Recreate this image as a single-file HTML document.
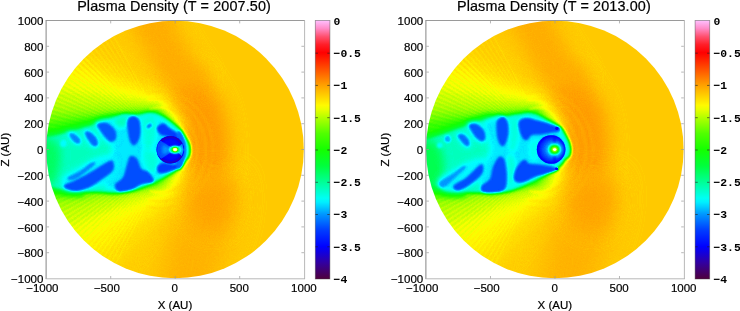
<!DOCTYPE html>
<html><head><meta charset="utf-8"><title>Plasma Density</title>
<style>
html,body{margin:0;padding:0;background:#fff;}
body{width:740px;height:311px;overflow:hidden;}
svg{display:block;opacity:0.999;}
.t{font-family:"Liberation Sans",sans-serif;font-size:11.5px;fill:#000;stroke:#000;stroke-width:0.2px;}
.ti{font-family:"Liberation Sans",sans-serif;font-size:14.4px;letter-spacing:0.12px;fill:#000;stroke:#000;stroke-width:0.2px;}
.m{font-family:"Liberation Mono",monospace;font-weight:bold;font-size:11.4px;fill:#000;}
</style></head><body>
<svg width="740" height="311" viewBox="0 0 740 311">
<defs>
<filter id="cmap" x="0" y="0" width="100%" height="100%" color-interpolation-filters="sRGB"><feComponentTransfer><feFuncR type="table" tableValues="0.314 0.299 0.284 0.270 0.255 0.240 0.225 0.211 0.196 0.172 0.147 0.123 0.098 0.074 0.049 0.025 0.000 0.000 0.000 0.000 0.000 0.000 0.000 0.000 0.000 0.000 0.000 0.000 0.000 0.000 0.000 0.000 0.000 0.000 0.000 0.000 0.000 0.000 0.000 0.000 0.000 0.000 0.000 0.000 0.000 0.000 0.000 0.000 0.000 0.000 0.000 0.000 0.000 0.000 0.000 0.000 0.000 0.010 0.020 0.029 0.039 0.049 0.059 0.069 0.078 0.108 0.137 0.167 0.196 0.225 0.255 0.284 0.314 0.363 0.412 0.461 0.510 0.559 0.608 0.657 0.706 0.760 0.814 0.868 0.922 0.976 1.000 1.000 1.000 1.000 1.000 1.000 1.000 1.000 1.000 1.000 1.000 1.000 1.000 1.000 1.000 1.000 1.000 1.000 1.000 1.000 1.000 1.000 1.000 1.000 1.000 1.000 1.000 1.000 1.000 1.000 1.000 1.000 1.000 1.000 1.000 1.000 1.000 1.000 1.000 1.000 1.000 1.000 1.000"/><feFuncG type="table" tableValues="0.000 0.000 0.000 0.000 0.000 0.000 0.000 0.000 0.000 0.000 0.000 0.000 0.000 0.000 0.000 0.000 0.000 0.029 0.059 0.088 0.118 0.147 0.176 0.206 0.235 0.279 0.324 0.368 0.412 0.456 0.500 0.544 0.588 0.647 0.705 0.764 0.822 0.881 0.939 0.998 1.000 1.000 1.000 1.000 1.000 1.000 1.000 1.000 1.000 1.000 1.000 1.000 1.000 1.000 1.000 1.000 1.000 1.000 1.000 1.000 1.000 1.000 1.000 1.000 1.000 1.000 1.000 1.000 1.000 1.000 1.000 1.000 1.000 1.000 1.000 1.000 1.000 1.000 1.000 1.000 1.000 1.000 1.000 1.000 1.000 1.000 0.980 0.945 0.910 0.874 0.839 0.804 0.769 0.733 0.698 0.663 0.627 0.588 0.549 0.510 0.471 0.431 0.392 0.353 0.314 0.275 0.235 0.196 0.157 0.118 0.078 0.039 0.000 0.029 0.059 0.088 0.118 0.167 0.216 0.265 0.314 0.373 0.431 0.490 0.549 0.600 0.651 0.702 0.753"/><feFuncB type="table" tableValues="0.235 0.284 0.333 0.382 0.431 0.480 0.529 0.578 0.627 0.674 0.721 0.767 0.814 0.860 0.907 0.953 1.000 1.000 1.000 1.000 1.000 1.000 1.000 1.000 1.000 1.000 1.000 1.000 1.000 1.000 1.000 1.000 1.000 1.000 1.000 1.000 1.000 1.000 1.000 1.000 0.956 0.910 0.864 0.818 0.772 0.726 0.680 0.634 0.588 0.544 0.500 0.456 0.412 0.368 0.324 0.279 0.235 0.206 0.176 0.147 0.118 0.088 0.059 0.029 0.000 0.000 0.000 0.000 0.000 0.000 0.000 0.000 0.000 0.000 0.000 0.000 0.000 0.000 0.000 0.000 0.000 0.000 0.000 0.000 0.000 0.000 0.000 0.000 0.000 0.000 0.000 0.000 0.000 0.000 0.000 0.000 0.000 0.000 0.000 0.000 0.000 0.000 0.000 0.000 0.000 0.000 0.000 0.000 0.000 0.000 0.000 0.000 0.000 0.039 0.078 0.118 0.157 0.225 0.294 0.363 0.431 0.520 0.608 0.696 0.784 0.838 0.892 0.946 1.000"/></feComponentTransfer></filter>
<filter id="b0.5" x="-50%" y="-50%" width="200%" height="200%" color-interpolation-filters="sRGB"><feGaussianBlur stdDeviation="0.5"/></filter><filter id="b0.7" x="-50%" y="-50%" width="200%" height="200%" color-interpolation-filters="sRGB"><feGaussianBlur stdDeviation="0.7"/></filter><filter id="b0.8" x="-50%" y="-50%" width="200%" height="200%" color-interpolation-filters="sRGB"><feGaussianBlur stdDeviation="0.8"/></filter><filter id="b0.9" x="-50%" y="-50%" width="200%" height="200%" color-interpolation-filters="sRGB"><feGaussianBlur stdDeviation="0.9"/></filter><filter id="b1" x="-50%" y="-50%" width="200%" height="200%" color-interpolation-filters="sRGB"><feGaussianBlur stdDeviation="1"/></filter><filter id="b1.1" x="-50%" y="-50%" width="200%" height="200%" color-interpolation-filters="sRGB"><feGaussianBlur stdDeviation="1.1"/></filter><filter id="b1.2" x="-50%" y="-50%" width="200%" height="200%" color-interpolation-filters="sRGB"><feGaussianBlur stdDeviation="1.2"/></filter><filter id="b1.3" x="-50%" y="-50%" width="200%" height="200%" color-interpolation-filters="sRGB"><feGaussianBlur stdDeviation="1.3"/></filter><filter id="b1.4" x="-50%" y="-50%" width="200%" height="200%" color-interpolation-filters="sRGB"><feGaussianBlur stdDeviation="1.4"/></filter><filter id="b1.5" x="-50%" y="-50%" width="200%" height="200%" color-interpolation-filters="sRGB"><feGaussianBlur stdDeviation="1.5"/></filter><filter id="b2" x="-50%" y="-50%" width="200%" height="200%" color-interpolation-filters="sRGB"><feGaussianBlur stdDeviation="2"/></filter><filter id="b2.5" x="-50%" y="-50%" width="200%" height="200%" color-interpolation-filters="sRGB"><feGaussianBlur stdDeviation="2.5"/></filter><filter id="b3" x="-50%" y="-50%" width="200%" height="200%" color-interpolation-filters="sRGB"><feGaussianBlur stdDeviation="3"/></filter><filter id="b4" x="-50%" y="-50%" width="200%" height="200%" color-interpolation-filters="sRGB"><feGaussianBlur stdDeviation="4"/></filter><filter id="b5" x="-50%" y="-50%" width="200%" height="200%" color-interpolation-filters="sRGB"><feGaussianBlur stdDeviation="5"/></filter><filter id="b6" x="-50%" y="-50%" width="200%" height="200%" color-interpolation-filters="sRGB"><feGaussianBlur stdDeviation="6"/></filter><filter id="b8" x="-50%" y="-50%" width="200%" height="200%" color-interpolation-filters="sRGB"><feGaussianBlur stdDeviation="8"/></filter><filter id="b9" x="-50%" y="-50%" width="200%" height="200%" color-interpolation-filters="sRGB"><feGaussianBlur stdDeviation="9"/></filter><filter id="b12" x="-50%" y="-50%" width="200%" height="200%" color-interpolation-filters="sRGB"><feGaussianBlur stdDeviation="12"/></filter><linearGradient id="cbar" x1="0" y1="0" x2="0" y2="1"><stop offset="0.0000" stop-color="#ffc0ff"/><stop offset="0.0156" stop-color="#ffa6e4"/><stop offset="0.0312" stop-color="#ff8cc8"/><stop offset="0.0469" stop-color="#ff6e9b"/><stop offset="0.0625" stop-color="#ff506e"/><stop offset="0.0781" stop-color="#ff374b"/><stop offset="0.0938" stop-color="#ff1e28"/><stop offset="0.1094" stop-color="#ff0f14"/><stop offset="0.1250" stop-color="#ff0000"/><stop offset="0.1406" stop-color="#ff1400"/><stop offset="0.1562" stop-color="#ff2800"/><stop offset="0.1719" stop-color="#ff3c00"/><stop offset="0.1875" stop-color="#ff5000"/><stop offset="0.2031" stop-color="#ff6400"/><stop offset="0.2188" stop-color="#ff7800"/><stop offset="0.2344" stop-color="#ff8c00"/><stop offset="0.2500" stop-color="#ffa000"/><stop offset="0.2656" stop-color="#ffb200"/><stop offset="0.2812" stop-color="#ffc400"/><stop offset="0.2969" stop-color="#ffd600"/><stop offset="0.3125" stop-color="#ffe800"/><stop offset="0.3281" stop-color="#fffa00"/><stop offset="0.3438" stop-color="#ebff00"/><stop offset="0.3594" stop-color="#d0ff00"/><stop offset="0.3750" stop-color="#b4ff00"/><stop offset="0.3906" stop-color="#9bff00"/><stop offset="0.4062" stop-color="#82ff00"/><stop offset="0.4219" stop-color="#69ff00"/><stop offset="0.4375" stop-color="#50ff00"/><stop offset="0.4531" stop-color="#41ff00"/><stop offset="0.4688" stop-color="#32ff00"/><stop offset="0.4844" stop-color="#23ff00"/><stop offset="0.5000" stop-color="#14ff00"/><stop offset="0.5156" stop-color="#0fff0f"/><stop offset="0.5312" stop-color="#0aff1e"/><stop offset="0.5469" stop-color="#05ff2d"/><stop offset="0.5625" stop-color="#00ff3c"/><stop offset="0.5781" stop-color="#00ff52"/><stop offset="0.5938" stop-color="#00ff69"/><stop offset="0.6094" stop-color="#00ff80"/><stop offset="0.6250" stop-color="#00ff96"/><stop offset="0.6406" stop-color="#00ffad"/><stop offset="0.6562" stop-color="#00ffc5"/><stop offset="0.6719" stop-color="#00ffdc"/><stop offset="0.6875" stop-color="#00fff4"/><stop offset="0.7031" stop-color="#00efff"/><stop offset="0.7188" stop-color="#00d2ff"/><stop offset="0.7344" stop-color="#00b4ff"/><stop offset="0.7500" stop-color="#0096ff"/><stop offset="0.7656" stop-color="#0080ff"/><stop offset="0.7812" stop-color="#0069ff"/><stop offset="0.7969" stop-color="#0052ff"/><stop offset="0.8125" stop-color="#003cff"/><stop offset="0.8281" stop-color="#002dff"/><stop offset="0.8438" stop-color="#001eff"/><stop offset="0.8594" stop-color="#000fff"/><stop offset="0.8750" stop-color="#0000ff"/><stop offset="0.8906" stop-color="#0c00e7"/><stop offset="0.9062" stop-color="#1900d0"/><stop offset="0.9219" stop-color="#2600b8"/><stop offset="0.9375" stop-color="#3200a0"/><stop offset="0.9531" stop-color="#3a0087"/><stop offset="0.9688" stop-color="#41006e"/><stop offset="0.9844" stop-color="#480055"/><stop offset="1.0000" stop-color="#50003c"/></linearGradient>
<clipPath id="circ"><circle cx="175" cy="149.5" r="128.8"/></clipPath>
<clipPath id="sq"><rect x="40" y="14" width="270" height="270"/></clipPath>
</defs>
<rect width="740" height="311" fill="#fff"/>
<g>
<g clip-path="url(#circ)"><g filter="url(#cmap)"><g clip-path="url(#sq)"><rect x="30" y="4" width="290" height="290" fill="#b6b6b6"/><path d="M229.0 160.0C229.5 155.7 229.3 155.8 229.0 150.0C228.7 144.2 228.3 132.8 227.0 125.0C225.7 117.2 223.3 108.8 221.0 103.0C218.7 97.2 216.0 94.5 213.0 90.0C210.0 85.5 207.5 79.7 203.0 76.0C198.5 72.3 191.5 68.0 186.0 68.0C180.5 68.0 172.3 70.7 170.0 76.0C167.7 81.3 170.7 92.7 172.0 100.0C173.3 107.3 178.3 111.7 178.0 120.0C177.7 128.3 168.7 140.8 170.0 150.0C171.3 159.2 182.3 168.0 186.0 175.0C189.7 182.0 187.0 189.2 192.0 192.0C197.0 194.8 210.3 194.7 216.0 192.0C221.7 189.3 223.8 181.3 226.0 176.0C228.2 170.7 228.5 164.3 229.0 160.0Z" fill="#c0c0c0" filter="url(#b9)" /><path d="M206.0 82.0C210.0 76.3 195.2 61.5 190.0 52.0C184.8 42.5 178.7 33.7 175.0 25.0C171.3 16.3 176.5 4.2 168.0 0.0C159.5 -4.2 130.2 -4.2 124.0 0.0C117.8 4.2 127.3 16.3 131.0 25.0C134.7 33.7 140.2 41.8 146.0 52.0C151.8 62.2 156.0 81.0 166.0 86.0C176.0 91.0 202.0 87.7 206.0 82.0Z" fill="#bcbcbc" filter="url(#b9)" /><path d="M188.0 180.0C196.3 176.3 223.7 174.7 232.0 178.0C240.3 181.3 237.7 192.2 238.0 200.0C238.3 207.8 236.0 216.7 234.0 225.0C232.0 233.3 229.0 241.7 226.0 250.0C223.0 258.3 218.3 266.7 216.0 275.0C213.7 283.3 221.3 295.8 212.0 300.0C202.7 304.2 168.2 304.2 160.0 300.0C151.8 295.8 161.7 283.3 163.0 275.0C164.3 266.7 166.2 258.3 168.0 250.0C169.8 241.7 171.7 233.3 174.0 225.0C176.3 216.7 179.7 207.5 182.0 200.0C184.3 192.5 179.7 183.7 188.0 180.0Z" fill="#bbbbbb" filter="url(#b12)" /><path d="M192.0 185.0C198.3 182.0 221.3 179.5 228.0 182.0C234.7 184.5 232.3 193.3 232.0 200.0C231.7 206.7 229.3 216.7 226.0 222.0C222.7 227.3 217.0 232.0 212.0 232.0C207.0 232.0 199.7 227.3 196.0 222.0C192.3 216.7 190.7 206.2 190.0 200.0C189.3 193.8 185.7 188.0 192.0 185.0Z" fill="#bebebe" filter="url(#b9)" /><path d="M186.0 135.0L160.8 93.0L-14.2 -8.0L-60.0 -8.0L-60.0 361.2L48.4 361.2L172.8 202.1L186.0 165.0L150.0 150.0Z" fill="#b2b2b2" filter="url(#b8)" /><path d="M183.0 130.0L158.9 97.0L-29.7 24.6L-60.0 24.6L-60.0 327.8L13.8 327.8L168.6 198.0L183.0 168.0L150.0 150.0Z" fill="#aeaeae" filter="url(#b6)" /><path d="M180.0 127.0L158.0 99.8L-37.2 47.5L-60.0 47.5L-60.0 295.0L-9.2 295.0L165.8 194.0L180.0 170.5L150.0 150.0Z" fill="#aaaaaa" filter="url(#b5)" /><path d="M176.0 123.0L157.3 103.1L-42.8 75.0L-60.0 75.0L-60.0 262.4L-24.7 262.4L163.9 190.0L176.0 173.0L150.0 150.0Z" fill="#a4a4a4" filter="url(#b4)" /><path d="M172.0 120.0L157.0 106.0L-44.9 99.0L-60.0 99.0L-60.0 235.6L-33.2 235.6L162.8 186.8L172.0 176.0L150.0 150.0Z" fill="#9f9f9f" filter="url(#b4)" /><path d="M167.0 117.0L157.0 108.2L-44.8 117.0L-60.0 117.0L-60.0 218.0L-36.8 218.0L162.4 184.6L166.0 179.5L150.0 150.0Z" fill="#969696" filter="url(#b3)" /><path d="M160.0 114.5L157.2 110.2L-43.5 133.0L-60.0 133.0L-60.0 206.0L-38.5 206.0L162.2 183.2L158.0 183.5L150.0 150.0Z" fill="#898989" filter="url(#b2.5)" /><path d="M175 149.6L109.3 26.0L107.1 27.2ZM175 149.6L105.0 28.4L102.9 29.6ZM175 149.6L100.8 30.9L98.8 32.2ZM175 149.6L96.7 33.5L94.7 34.9ZM175 149.6L92.7 36.3L90.7 37.8ZM175 149.6L88.8 39.3L86.9 40.8ZM175 149.6L85.0 42.4L83.2 43.9ZM175 149.6L81.3 45.6L79.5 47.2Z" fill="#000" opacity="0.008"/><path d="M175 149.6L107.1 27.2L105.0 28.4ZM175 149.6L102.9 29.6L100.8 30.9ZM175 149.6L98.8 32.2L96.7 33.5ZM175 149.6L94.7 34.9L92.7 36.3ZM175 149.6L90.7 37.8L88.8 39.3ZM175 149.6L86.9 40.8L85.0 42.4ZM175 149.6L83.2 43.9L81.3 45.6ZM175 149.6L79.5 47.2L77.7 48.9Z" fill="#fff" opacity="0.008"/><path d="M175 149.6L77.7 48.9L76.0 50.6ZM175 149.6L74.3 52.3L72.6 54.1ZM175 149.6L71.0 55.9L69.3 57.8ZM175 149.6L67.8 59.6L66.2 61.5ZM175 149.6L64.7 63.4L63.2 65.3ZM175 149.6L61.7 67.3L60.3 69.3ZM175 149.6L58.9 71.3L57.6 73.4ZM175 149.6L56.3 75.4L55.0 77.5ZM175 149.6L53.8 79.6L52.6 81.7ZM175 149.6L51.4 83.9L50.3 86.0ZM175 149.6L49.2 88.2L48.1 90.4ZM175 149.6L47.1 92.7L46.1 94.9ZM175 149.6L45.2 97.2L44.3 99.4ZM175 149.6L43.4 101.7L42.6 104.0ZM175 149.6L41.9 106.3L41.1 108.7ZM175 149.6L40.4 111.0L39.8 113.4ZM175 149.6L39.2 115.7L38.6 118.1ZM175 149.6L38.1 120.5L37.6 122.9ZM175 149.6L37.1 125.3L36.7 127.7ZM175 149.6L36.4 130.1L36.0 132.5ZM175 149.6L35.8 135.0L35.5 137.4ZM175 149.6L35.3 139.8L35.2 142.3ZM175 149.6L35.1 144.7L35.0 147.2ZM175 149.6L35.0 149.6L35.0 152.0ZM175 149.6L35.1 154.5L35.2 156.9ZM175 149.6L35.3 159.4L35.5 161.8ZM175 149.6L35.8 164.2L36.0 166.7ZM175 149.6L36.4 169.1L36.7 171.5ZM175 149.6L37.1 173.9L37.6 176.3ZM175 149.6L38.1 178.7L38.6 181.1ZM175 149.6L39.2 183.5L39.8 185.8ZM175 149.6L40.4 188.2L41.1 190.5ZM175 149.6L41.9 192.9L42.6 195.2ZM175 149.6L43.4 197.5L44.3 199.8ZM175 149.6L45.2 202.0L46.1 204.3ZM175 149.6L47.1 206.5L48.1 208.8ZM175 149.6L49.2 211.0L50.3 213.2ZM175 149.6L51.4 215.3L52.6 217.5ZM175 149.6L53.8 219.6L55.0 221.7ZM175 149.6L56.3 223.8L57.6 225.8ZM175 149.6L58.9 227.9L60.3 229.9ZM175 149.6L61.7 231.9L63.2 233.9ZM175 149.6L64.7 235.8L66.2 237.7ZM175 149.6L67.8 239.6L69.3 241.4ZM175 149.6L71.0 243.3L72.6 245.1ZM175 149.6L74.3 246.9L76.0 248.6Z" fill="#000" opacity="0.017"/><path d="M175 149.6L76.0 50.6L74.3 52.3ZM175 149.6L72.6 54.1L71.0 55.9ZM175 149.6L69.3 57.8L67.8 59.6ZM175 149.6L66.2 61.5L64.7 63.4ZM175 149.6L63.2 65.3L61.7 67.3ZM175 149.6L60.3 69.3L58.9 71.3ZM175 149.6L57.6 73.4L56.3 75.4ZM175 149.6L55.0 77.5L53.8 79.6ZM175 149.6L52.6 81.7L51.4 83.9ZM175 149.6L50.3 86.0L49.2 88.2ZM175 149.6L48.1 90.4L47.1 92.7ZM175 149.6L46.1 94.9L45.2 97.2ZM175 149.6L44.3 99.4L43.4 101.7ZM175 149.6L42.6 104.0L41.9 106.3ZM175 149.6L41.1 108.7L40.4 111.0ZM175 149.6L39.8 113.4L39.2 115.7ZM175 149.6L38.6 118.1L38.1 120.5ZM175 149.6L37.6 122.9L37.1 125.3ZM175 149.6L36.7 127.7L36.4 130.1ZM175 149.6L36.0 132.5L35.8 135.0ZM175 149.6L35.5 137.4L35.3 139.8ZM175 149.6L35.2 142.3L35.1 144.7ZM175 149.6L35.0 147.2L35.0 149.6ZM175 149.6L35.0 152.0L35.1 154.5ZM175 149.6L35.2 156.9L35.3 159.4ZM175 149.6L35.5 161.8L35.8 164.2ZM175 149.6L36.0 166.7L36.4 169.1ZM175 149.6L36.7 171.5L37.1 173.9ZM175 149.6L37.6 176.3L38.1 178.7ZM175 149.6L38.6 181.1L39.2 183.5ZM175 149.6L39.8 185.8L40.4 188.2ZM175 149.6L41.1 190.5L41.9 192.9ZM175 149.6L42.6 195.2L43.4 197.5ZM175 149.6L44.3 199.8L45.2 202.0ZM175 149.6L46.1 204.3L47.1 206.5ZM175 149.6L48.1 208.8L49.2 211.0ZM175 149.6L50.3 213.2L51.4 215.3ZM175 149.6L52.6 217.5L53.8 219.6ZM175 149.6L55.0 221.7L56.3 223.8ZM175 149.6L57.6 225.8L58.9 227.9ZM175 149.6L60.3 229.9L61.7 231.9ZM175 149.6L63.2 233.9L64.7 235.8ZM175 149.6L66.2 237.7L67.8 239.6ZM175 149.6L69.3 241.4L71.0 243.3ZM175 149.6L72.6 245.1L74.3 246.9ZM175 149.6L76.0 248.6L77.7 250.3Z" fill="#fff" opacity="0.017"/><path d="M175 149.6L77.7 250.3L79.5 252.0ZM175 149.6L81.3 253.6L83.2 255.3ZM175 149.6L85.0 256.8L86.9 258.4ZM175 149.6L88.8 259.9L90.7 261.4ZM175 149.6L92.7 262.9L94.7 264.3ZM175 149.6L96.7 265.7L98.8 267.0ZM175 149.6L100.8 268.3L102.9 269.6ZM175 149.6L105.0 270.8L107.1 272.0ZM175 149.6L109.3 273.2L111.4 274.3Z" fill="#000" opacity="0.008"/><path d="M175 149.6L79.5 252.0L81.3 253.6ZM175 149.6L83.2 255.3L85.0 256.8ZM175 149.6L86.9 258.4L88.8 259.9ZM175 149.6L90.7 261.4L92.7 262.9ZM175 149.6L94.7 264.3L96.7 265.7ZM175 149.6L98.8 267.0L100.8 268.3ZM175 149.6L102.9 269.6L105.0 270.8ZM175 149.6L107.1 272.0L109.3 273.2ZM175 149.6L111.4 274.3L113.6 275.4Z" fill="#fff" opacity="0.008"/><path d="M150.4 108.9C152.0 108.7 156.8 107.5 160.0 107.5C163.2 107.5 166.5 108.0 169.6 108.9C172.7 109.9 175.8 111.4 178.6 113.2C181.3 115.0 184.0 117.4 186.2 119.9C188.5 122.5 190.5 125.6 192.1 128.8C193.7 131.9 195.0 135.5 195.8 139.0C196.7 142.5 197.1 146.3 197.1 150.0C197.1 153.7 196.7 157.5 195.8 161.0C195.0 164.5 193.7 168.1 192.1 171.2C190.5 174.4 188.5 177.5 186.2 180.1C184.0 182.6 181.3 185.0 178.6 186.8C175.8 188.6 172.7 190.1 169.6 191.1C166.5 192.0 163.2 192.5 160.0 192.5C156.8 192.5 152.0 191.3 150.4 191.1" fill="none" stroke="#b8b8b8" stroke-width="1.6" filter="url(#b1)" opacity="0.55" stroke-linecap="round" stroke-linejoin="round"/><path d="M148.1 100.3C150.1 100.0 156.0 98.5 160.0 98.5C164.0 98.5 168.1 99.1 171.9 100.3C175.8 101.4 179.6 103.2 183.1 105.4C186.5 107.6 189.8 110.4 192.6 113.6C195.4 116.7 197.9 120.4 199.9 124.2C201.9 128.1 203.5 132.4 204.5 136.7C205.6 141.0 206.1 145.6 206.1 150.0C206.1 154.4 205.6 159.0 204.5 163.3C203.5 167.6 201.9 171.9 199.9 175.8C197.9 179.6 195.4 183.3 192.6 186.4C189.8 189.6 186.5 192.4 183.1 194.6C179.6 196.8 175.8 198.6 171.9 199.7C168.1 200.9 164.0 201.5 160.0 201.5C156.0 201.5 150.1 200.0 148.1 199.7" fill="none" stroke="#b8b8b8" stroke-width="1.6" filter="url(#b1)" opacity="0.45" stroke-linecap="round" stroke-linejoin="round"/><path d="M146.3 93.5C148.5 93.2 155.4 91.5 160.0 91.5C164.6 91.5 169.3 92.2 173.7 93.5C178.2 94.8 182.6 96.8 186.6 99.3C190.5 101.9 194.3 105.1 197.5 108.6C200.8 112.2 203.7 116.4 206.0 120.8C208.3 125.1 210.1 130.0 211.3 134.9C212.5 139.7 213.1 145.0 213.1 150.0C213.1 155.0 212.5 160.3 211.3 165.1C210.1 170.0 208.3 174.9 206.0 179.2C203.7 183.6 200.8 187.8 197.5 191.4C194.3 194.9 190.5 198.1 186.6 200.7C182.6 203.2 178.2 205.2 173.7 206.5C169.3 207.8 164.6 208.5 160.0 208.5C155.4 208.5 148.5 206.8 146.3 206.5" fill="none" stroke="#b8b8b8" stroke-width="1.6" filter="url(#b1)" opacity="0.35" stroke-linecap="round" stroke-linejoin="round"/><path d="M30.0 137.0C33.1 134.3 40.6 133.2 48.7 131.0C56.8 128.8 70.0 125.7 78.6 123.5C87.1 121.3 94.3 119.3 100.0 118.0C105.7 116.7 110.2 115.3 113.0 115.5C115.8 115.7 119.2 117.2 117.0 119.0C114.8 120.8 106.5 123.8 100.0 126.0C93.5 128.2 86.7 130.0 78.0 132.5C69.3 135.0 56.0 138.6 48.0 141.0C40.0 143.4 33.0 147.7 30.0 147.0C27.0 146.3 26.9 139.7 30.0 137.0Z" fill="#787878" filter="url(#b2)" /><path d="M30.0 176.0C33.7 175.5 45.7 181.0 52.0 183.0C58.3 185.0 63.0 186.8 68.0 188.0C73.0 189.2 79.7 188.8 82.0 190.0C84.3 191.2 84.7 194.7 82.0 195.5C79.3 196.3 71.3 195.7 66.0 195.0C60.7 194.3 56.0 193.0 50.0 191.5C44.0 190.0 33.3 188.6 30.0 186.0C26.7 183.4 26.3 176.5 30.0 176.0Z" fill="#797979" filter="url(#b2)" /><path d="M30.0 142.0C33.1 134.7 40.6 139.2 48.7 137.0C56.8 134.8 70.0 131.4 78.6 129.0C87.1 126.6 94.8 124.1 100.0 122.5C105.2 120.9 106.1 120.9 110.0 119.5C113.9 118.1 119.0 114.8 123.5 114.0C128.0 113.2 132.5 115.0 137.0 114.8C141.5 114.6 146.4 112.6 150.5 112.7C154.6 112.8 158.0 113.9 161.4 115.4C164.8 116.9 167.7 119.1 170.8 121.5C174.0 123.9 177.9 127.1 180.3 129.6C182.7 132.1 183.6 134.2 185.0 136.4C186.4 138.6 187.9 140.7 188.8 143.0C189.7 145.3 190.3 147.7 190.3 150.0C190.3 152.3 189.7 155.2 188.8 157.0C187.9 158.8 186.3 159.0 185.0 160.5C183.7 162.0 182.9 164.1 181.0 166.0C179.1 167.9 176.5 169.9 173.8 171.7C171.1 173.5 168.4 175.0 165.0 176.8C161.6 178.6 157.8 180.7 153.5 182.6C149.2 184.5 143.8 186.8 139.0 188.4C134.2 190.0 129.3 191.3 124.5 192.0C119.7 192.7 116.1 192.5 110.0 192.5C103.9 192.5 94.8 192.2 88.0 192.0C81.2 191.8 75.1 191.8 69.0 191.0C62.9 190.2 58.1 188.7 51.6 187.0C45.1 185.3 33.6 188.5 30.0 181.0C26.4 173.5 26.9 149.3 30.0 142.0Z" fill="#595959" filter="url(#b1.4)" /><path d="M30.0 140.0C33.3 132.7 45.0 137.3 50.0 139.0C55.0 140.7 58.7 144.5 60.0 150.0C61.3 155.5 59.7 166.2 58.0 172.0C56.3 177.8 54.7 183.2 50.0 185.0C45.3 186.8 33.3 190.5 30.0 183.0C26.7 175.5 26.7 147.3 30.0 140.0Z" fill="#696969" filter="url(#b4)" /><path d="M104.0 124.0C105.9 118.5 118.0 118.1 123.5 117.0C129.0 115.9 132.5 117.8 137.0 117.5C141.5 117.2 146.5 115.4 150.5 115.5C154.5 115.6 157.8 116.6 161.0 118.0C164.2 119.4 167.0 121.7 170.0 124.0C173.0 126.3 176.3 128.8 179.0 132.0C181.7 135.2 184.7 140.0 186.0 143.0C187.3 146.0 187.0 147.7 187.0 150.0C187.0 152.3 187.3 154.3 186.0 157.0C184.7 159.7 182.5 163.1 179.0 166.0C175.5 168.9 169.3 172.1 165.0 174.5C160.7 176.9 157.3 178.6 153.0 180.5C148.7 182.4 143.8 184.5 139.0 186.0C134.2 187.5 129.7 188.9 124.5 189.5C119.3 190.1 112.1 192.8 108.0 189.5C103.9 186.2 99.3 176.6 100.0 170.0C100.7 163.4 111.3 157.7 112.0 150.0C112.7 142.3 102.1 129.5 104.0 124.0Z" fill="#4b4b4b" filter="url(#b3)" /><path d="M62.0 178.0C64.3 174.0 73.7 169.7 80.0 166.0C86.3 162.3 94.0 157.3 100.0 156.0C106.0 154.7 113.7 154.7 116.0 158.0C118.3 161.3 116.7 171.3 114.0 176.0C111.3 180.7 105.7 183.6 100.0 186.0C94.3 188.4 85.7 189.8 80.0 190.5C74.3 191.2 69.0 192.1 66.0 190.0C63.0 187.9 59.7 182.0 62.0 178.0Z" fill="#4d4d4d" filter="url(#b2.5)" /><path d="M95.0 123.0C96.0 120.0 104.2 118.8 108.0 120.0C111.8 121.2 116.3 126.5 118.0 130.0C119.7 133.5 119.3 138.7 118.0 141.0C116.7 143.3 112.7 144.5 110.0 144.0C107.3 143.5 104.5 141.5 102.0 138.0C99.5 134.5 94.0 126.0 95.0 123.0Z" fill="#4d4d4d" filter="url(#b2)" /><path d="M83.0 131.0C83.8 129.2 88.3 128.8 91.0 130.0C93.7 131.2 97.7 135.3 99.0 138.0C100.3 140.7 100.2 144.3 99.0 146.0C97.8 147.7 94.2 148.8 92.0 148.0C89.8 147.2 87.5 143.8 86.0 141.0C84.5 138.2 82.2 132.8 83.0 131.0Z" fill="#4d4d4d" filter="url(#b2)" /><path d="M67.0 132.0C68.0 130.8 72.5 130.8 75.0 132.0C77.5 133.2 81.0 136.8 82.0 139.0C83.0 141.2 82.3 144.2 81.0 145.0C79.7 145.8 76.0 145.0 74.0 144.0C72.0 143.0 70.2 141.0 69.0 139.0C67.8 137.0 66.0 133.2 67.0 132.0Z" fill="#4e4e4e" filter="url(#b2)" /><ellipse cx="63.5" cy="143.4" rx="3.2" ry="3.6" transform="rotate(0 63.5 143.4)" fill="#4e4e4e" filter="url(#b1.2)"/><path d="M142.0 118.0C143.8 114.8 151.5 114.3 154.0 116.0C156.5 117.7 157.2 123.0 157.0 128.0C156.8 133.0 155.0 142.0 153.0 146.0C151.0 150.0 146.7 153.8 145.0 152.0C143.3 150.2 143.5 140.7 143.0 135.0C142.5 129.3 140.2 121.2 142.0 118.0Z" fill="#545454" filter="url(#b2.5)" /><path d="M143.0 152.0C144.7 149.3 153.5 149.7 156.0 152.0C158.5 154.3 158.7 162.3 158.0 166.0C157.3 169.7 154.0 173.7 152.0 174.0C150.0 174.3 147.5 171.7 146.0 168.0C144.5 164.3 141.3 154.7 143.0 152.0Z" fill="#545454" filter="url(#b2.5)" /><path d="M114.0 120.0C115.0 118.0 123.8 115.3 126.0 116.0C128.2 116.7 128.0 122.0 127.0 124.0C126.0 126.0 122.2 128.7 120.0 128.0C117.8 127.3 113.0 122.0 114.0 120.0Z" fill="#595959" filter="url(#b2)" /><path d="M97.5 124.2C98.7 123.2 103.8 122.1 106.7 123.1C109.6 124.1 113.5 127.7 115.0 130.3C116.5 132.9 116.7 136.7 116.0 138.6C115.3 140.5 112.7 142.0 110.8 141.7C108.9 141.3 106.6 138.6 104.7 136.5C102.8 134.4 100.7 131.4 99.5 129.3C98.3 127.3 96.3 125.2 97.5 124.2Z" fill="#353535" filter="url(#b0.9)" /><path d="M85.1 132.4C85.4 131.2 88.4 131.4 90.3 132.4C92.2 133.4 95.2 136.6 96.4 138.6C97.6 140.6 98.0 143.5 97.5 144.7C97.0 145.9 95.0 146.7 93.4 145.8C91.9 145.0 89.6 141.8 88.2 139.6C86.8 137.4 84.8 133.6 85.1 132.4Z" fill="#383838" filter="url(#b0.9)" /><path d="M69.7 133.4C70.4 132.9 73.1 133.5 74.8 134.5C76.5 135.5 79.3 138.1 80.0 139.6C80.7 141.1 79.9 143.3 79.0 143.7C78.1 144.1 76.2 143.2 74.8 142.2C73.4 141.2 71.5 139.0 70.7 137.5C69.9 136.0 69.0 133.9 69.7 133.4Z" fill="#3d3d3d" filter="url(#b0.9)" /><path d="M127.6 120.2C128.5 117.5 131.7 116.1 133.6 116.1C135.5 116.1 137.9 118.0 139.0 120.2C140.1 122.5 140.4 126.5 140.4 129.6C140.4 132.7 140.0 136.4 139.0 139.0C138.0 141.6 135.8 144.7 134.3 145.2C132.9 145.7 131.3 144.0 130.3 141.8C129.3 139.7 128.6 135.9 128.2 132.3C127.7 128.7 126.7 122.9 127.6 120.2Z" fill="#333333" filter="url(#b1)" /><ellipse cx="149.2" cy="125.9" rx="3.2" ry="1.8" transform="rotate(-40 149.2 125.9)" fill="#393939" filter="url(#b0.8)"/><path d="M157.3 127.0C158.2 125.7 161.4 123.3 163.4 123.5C165.4 123.7 167.1 126.6 169.5 128.3C171.9 130.0 175.6 131.7 177.6 133.7C179.6 135.7 181.6 138.8 181.6 140.4C181.6 142.0 179.6 143.7 177.6 143.1C175.6 142.5 172.2 138.3 169.5 137.0C166.8 135.7 163.3 135.9 161.4 135.0C159.5 134.1 158.7 132.9 158.0 131.6C157.3 130.3 156.4 128.3 157.3 127.0Z" fill="#303030" filter="url(#b1)" /><path d="M64.3 185.3C65.9 183.7 72.4 182.0 77.2 179.6C82.0 177.2 87.9 173.9 93.3 170.8C98.7 167.7 106.1 162.4 109.4 161.1C112.8 159.8 112.9 161.1 113.4 162.7C113.9 164.3 114.6 168.0 112.6 170.8C110.6 173.6 105.2 176.9 101.4 179.6C97.7 182.3 94.1 185.0 90.1 186.9C86.1 188.8 81.0 190.5 77.2 190.9C73.4 191.3 69.7 190.2 67.5 189.3C65.3 188.4 62.7 186.9 64.3 185.3Z" fill="#333333" filter="url(#b1)" /><path d="M67.5 178.0C68.6 176.5 76.4 173.4 80.4 170.8C84.4 168.2 89.3 163.8 91.7 162.7C94.1 161.6 96.0 162.7 94.9 164.3C93.8 165.9 88.8 169.9 85.3 172.4C81.8 174.9 77.0 178.7 74.0 179.6C71.0 180.5 66.4 179.5 67.5 178.0Z" fill="#3d3d3d" filter="url(#b1)" /><path d="M130.3 156.5C132.0 155.3 135.0 156.6 136.8 158.7C138.6 160.8 139.4 166.6 141.2 168.8C143.0 171.0 145.6 170.0 147.7 171.7C149.8 173.4 152.8 177.2 153.5 179.0C154.2 180.8 154.1 181.7 152.0 182.6C149.9 183.5 144.6 183.3 141.2 184.5C137.8 185.7 135.4 188.3 131.7 189.5C127.9 190.7 121.5 192.3 118.7 191.5C115.9 190.7 114.4 187.1 115.1 184.8C115.8 182.5 121.1 180.6 123.0 177.5C124.9 174.4 125.5 169.5 126.7 166.0C127.9 162.5 128.6 157.7 130.3 156.5Z" fill="#333333" filter="url(#b1.1)" /><path d="M157.8 166.0C158.8 164.6 160.9 163.2 163.6 163.0C166.3 162.8 170.7 164.5 173.8 164.5C177.0 164.5 181.5 162.5 182.5 163.0C183.5 163.5 181.5 166.1 179.6 167.4C177.7 168.7 173.8 170.0 170.9 171.0C168.0 172.0 164.4 173.1 162.2 173.2C160.0 173.3 158.5 172.9 157.8 171.7C157.1 170.5 156.8 167.4 157.8 166.0Z" fill="#303030" filter="url(#b1)" /><path d="M178.0 131.0C179.7 129.0 182.6 134.8 184.0 138.0C185.4 141.2 186.3 146.0 186.3 150.0C186.3 154.0 185.4 158.8 184.0 162.0C182.6 165.2 179.7 171.0 178.0 169.0C176.3 167.0 174.0 156.3 174.0 150.0C174.0 143.7 176.3 133.0 178.0 131.0Z" fill="#383838" filter="url(#b1.2)" /><circle cx="170.3" cy="149.7" r="13.7" fill="#141414" filter="url(#b0.5)"/><circle cx="170.5" cy="149.7" r="11.8" fill="#232323" filter="url(#b1)"/><path d="M175.1 149.7L160.5 140.5L157.3 145.0L157.0 149.7L157.3 154.5L161.0 159.0Z" fill="#333333" filter="url(#b0.7)" /><path d="M175.1 149.7L182.4 143.3L183.8 149.7L181.9 156.2Z" fill="#3d3d3d" filter="url(#b0.7)" /><path d="M175.1 149.7L163.0 144.5L162.0 149.7L163.0 155.0Z" fill="#404040" filter="url(#b1.5)" /><path d="M175.1 149.7L181.5 145.5L182.8 149.7L181.5 154.0Z" fill="#494949" filter="url(#b1)" /><ellipse cx="174.9" cy="149.7" rx="6.0" ry="3.8" transform="rotate(0 174.9 149.7)" fill="#505050" filter="url(#b1.3)"/><ellipse cx="175.0" cy="149.7" rx="4.2" ry="3.1" transform="rotate(0 175.0 149.7)" fill="#797979" filter="url(#b1)"/><ellipse cx="175.1" cy="149.7" rx="2.6" ry="2.1" transform="rotate(0 175.1 149.7)" fill="#a9a9a9" filter="url(#b0.7)"/></g></g><ellipse cx="175.1" cy="149.7" rx="1.7" ry="1.4" fill="#ffffe8" filter="url(#b0.5)"/></g>
<path d="M46.1 20.5V279" fill="none" stroke="#858585" stroke-width="1"/><path d="M45.6 20.5H304.8" fill="none" stroke="#808080" stroke-width="0.8"/><path d="M304.6 20.5V279M45.6 278.8H305" fill="none" stroke="#b0b0b0" stroke-width="0.9"/><path d="M46.5 46.3h2.6M304 46.3h-2.6" stroke="#9a9a9a" stroke-width="0.7"/><path d="M46.5 72.1h2.6M304 72.1h-2.6" stroke="#9a9a9a" stroke-width="0.7"/><path d="M46.5 97.9h2.6M304 97.9h-2.6" stroke="#9a9a9a" stroke-width="0.7"/><path d="M46.5 123.7h2.6M304 123.7h-2.6" stroke="#9a9a9a" stroke-width="0.7"/><path d="M46.5 149.5h2.6M304 149.5h-2.6" stroke="#9a9a9a" stroke-width="0.7"/><path d="M46.5 175.3h2.6M304 175.3h-2.6" stroke="#9a9a9a" stroke-width="0.7"/><path d="M46.5 201.1h2.6M304 201.1h-2.6" stroke="#9a9a9a" stroke-width="0.7"/><path d="M46.5 226.9h2.6M304 226.9h-2.6" stroke="#9a9a9a" stroke-width="0.7"/><path d="M46.5 252.7h2.6M304 252.7h-2.6" stroke="#9a9a9a" stroke-width="0.7"/><path d="M110.7 20.8v2.6M110.7 278.6v-2.6" stroke="#9a9a9a" stroke-width="0.7"/><path d="M175.2 20.8v2.6M175.2 278.6v-2.6" stroke="#9a9a9a" stroke-width="0.7"/><path d="M239.7 20.8v2.6M239.7 278.6v-2.6" stroke="#9a9a9a" stroke-width="0.7"/><text x="43.4" y="24.9" text-anchor="end" class="t">1000</text><text x="43.4" y="50.7" text-anchor="end" class="t">800</text><text x="43.4" y="76.5" text-anchor="end" class="t">600</text><text x="43.4" y="102.4" text-anchor="end" class="t">400</text><text x="43.4" y="128.2" text-anchor="end" class="t">200</text><text x="43.4" y="154.0" text-anchor="end" class="t">0</text><text x="43.4" y="179.8" text-anchor="end" class="t">−200</text><text x="43.4" y="205.6" text-anchor="end" class="t">−400</text><text x="43.4" y="231.5" text-anchor="end" class="t">−600</text><text x="43.4" y="257.3" text-anchor="end" class="t">−800</text><text x="43.4" y="283.1" text-anchor="end" class="t">−1000</text><text x="58.5" y="292.2" text-anchor="end" class="t">−1000</text><text x="119.8" y="292.2" text-anchor="end" class="t">−500</text><text x="178.0" y="292.2" text-anchor="end" class="t">0</text><text x="248.9" y="292.2" text-anchor="end" class="t">500</text><text x="316.7" y="292.2" text-anchor="end" class="t">1000</text><text x="175" y="309" text-anchor="middle" class="t">X (AU)</text><text transform="translate(8.7 149.7) rotate(-90)" text-anchor="middle" class="t">Z (AU)</text><text x="174.1" y="10.9" text-anchor="middle" class="ti">Plasma Density (T = 2007.50)</text><rect x="315.3" y="20.4" width="14.6" height="258.6" fill="url(#cbar)"/><rect x="315.3" y="20.4" width="14.6" height="258.6" fill="none" stroke="#444" stroke-opacity="0.55" stroke-width="0.8"/><text x="333.6" y="24.8" class="m">0</text><path d="M315.5 53.2h2.4M329.7 53.2h-2.4" stroke="#222" stroke-opacity="0.7" stroke-width="0.9"/><text x="333.6" y="57.1" class="m">−0.5</text><path d="M315.5 85.4h2.4M329.7 85.4h-2.4" stroke="#222" stroke-opacity="0.7" stroke-width="0.9"/><text x="333.6" y="89.3" class="m">−1</text><path d="M315.5 117.7h2.4M329.7 117.7h-2.4" stroke="#222" stroke-opacity="0.7" stroke-width="0.9"/><text x="333.6" y="121.6" class="m">−1.5</text><path d="M315.5 150.0h2.4M329.7 150.0h-2.4" stroke="#222" stroke-opacity="0.7" stroke-width="0.9"/><text x="333.6" y="153.9" class="m">−2</text><path d="M315.5 182.3h2.4M329.7 182.3h-2.4" stroke="#222" stroke-opacity="0.7" stroke-width="0.9"/><text x="333.6" y="186.2" class="m">−2.5</text><path d="M315.5 214.5h2.4M329.7 214.5h-2.4" stroke="#222" stroke-opacity="0.7" stroke-width="0.9"/><text x="333.6" y="218.4" class="m">−3</text><path d="M315.5 246.8h2.4M329.7 246.8h-2.4" stroke="#222" stroke-opacity="0.7" stroke-width="0.9"/><text x="333.6" y="250.7" class="m">−3.5</text><text x="333.6" y="283.0" class="m">−4</text>
</g>
<g transform="translate(379.8 0)">
<g clip-path="url(#circ)"><g filter="url(#cmap)"><g clip-path="url(#sq)"><rect x="30" y="4" width="290" height="290" fill="#b6b6b6"/><path d="M229.0 160.0C229.5 155.7 229.3 155.8 229.0 150.0C228.7 144.2 228.3 132.8 227.0 125.0C225.7 117.2 223.3 108.8 221.0 103.0C218.7 97.2 216.0 94.5 213.0 90.0C210.0 85.5 207.5 79.7 203.0 76.0C198.5 72.3 191.5 68.0 186.0 68.0C180.5 68.0 172.3 70.7 170.0 76.0C167.7 81.3 170.7 92.7 172.0 100.0C173.3 107.3 178.3 111.7 178.0 120.0C177.7 128.3 168.7 140.8 170.0 150.0C171.3 159.2 182.3 168.0 186.0 175.0C189.7 182.0 187.0 189.2 192.0 192.0C197.0 194.8 210.3 194.7 216.0 192.0C221.7 189.3 223.8 181.3 226.0 176.0C228.2 170.7 228.5 164.3 229.0 160.0Z" fill="#c0c0c0" filter="url(#b9)" /><path d="M206.0 82.0C210.0 76.3 195.2 61.5 190.0 52.0C184.8 42.5 178.7 33.7 175.0 25.0C171.3 16.3 176.5 4.2 168.0 0.0C159.5 -4.2 130.2 -4.2 124.0 0.0C117.8 4.2 127.3 16.3 131.0 25.0C134.7 33.7 140.2 41.8 146.0 52.0C151.8 62.2 156.0 81.0 166.0 86.0C176.0 91.0 202.0 87.7 206.0 82.0Z" fill="#bcbcbc" filter="url(#b9)" /><path d="M188.0 180.0C196.3 176.3 223.7 174.7 232.0 178.0C240.3 181.3 237.7 192.2 238.0 200.0C238.3 207.8 236.0 216.7 234.0 225.0C232.0 233.3 229.0 241.7 226.0 250.0C223.0 258.3 218.3 266.7 216.0 275.0C213.7 283.3 221.3 295.8 212.0 300.0C202.7 304.2 168.2 304.2 160.0 300.0C151.8 295.8 161.7 283.3 163.0 275.0C164.3 266.7 166.2 258.3 168.0 250.0C169.8 241.7 171.7 233.3 174.0 225.0C176.3 216.7 179.7 207.5 182.0 200.0C184.3 192.5 179.7 183.7 188.0 180.0Z" fill="#bbbbbb" filter="url(#b12)" /><path d="M192.0 185.0C198.3 182.0 221.3 179.5 228.0 182.0C234.7 184.5 232.3 193.3 232.0 200.0C231.7 206.7 229.3 216.7 226.0 222.0C222.7 227.3 217.0 232.0 212.0 232.0C207.0 232.0 199.7 227.3 196.0 222.0C192.3 216.7 190.7 206.2 190.0 200.0C189.3 193.8 185.7 188.0 192.0 185.0Z" fill="#bebebe" filter="url(#b9)" /><path d="M186.0 135.0L160.8 93.0L-14.2 -8.0L-60.0 -8.0L-60.0 361.2L48.4 361.2L172.8 202.1L186.0 165.0L150.0 150.0Z" fill="#b2b2b2" filter="url(#b8)" /><path d="M183.0 130.0L158.9 97.0L-29.7 24.6L-60.0 24.6L-60.0 327.8L13.8 327.8L168.6 198.0L183.0 168.0L150.0 150.0Z" fill="#aeaeae" filter="url(#b6)" /><path d="M180.0 127.0L158.0 99.8L-37.2 47.5L-60.0 47.5L-60.0 295.0L-9.2 295.0L165.8 194.0L180.0 170.5L150.0 150.0Z" fill="#aaaaaa" filter="url(#b5)" /><path d="M176.0 123.0L157.3 103.1L-42.8 75.0L-60.0 75.0L-60.0 262.4L-24.7 262.4L163.9 190.0L176.0 173.0L150.0 150.0Z" fill="#a4a4a4" filter="url(#b4)" /><path d="M172.0 120.0L157.0 106.0L-44.9 99.0L-60.0 99.0L-60.0 235.6L-33.2 235.6L162.8 186.8L172.0 176.0L150.0 150.0Z" fill="#9f9f9f" filter="url(#b4)" /><path d="M167.0 117.0L157.0 108.2L-44.8 117.0L-60.0 117.0L-60.0 218.0L-36.8 218.0L162.4 184.6L166.0 179.5L150.0 150.0Z" fill="#969696" filter="url(#b3)" /><path d="M160.0 114.5L157.2 110.2L-43.5 133.0L-60.0 133.0L-60.0 206.0L-38.5 206.0L162.2 183.2L158.0 183.5L150.0 150.0Z" fill="#898989" filter="url(#b2.5)" /><path d="M175 149.6L109.3 26.0L107.1 27.2ZM175 149.6L105.0 28.4L102.9 29.6ZM175 149.6L100.8 30.9L98.8 32.2ZM175 149.6L96.7 33.5L94.7 34.9ZM175 149.6L92.7 36.3L90.7 37.8ZM175 149.6L88.8 39.3L86.9 40.8ZM175 149.6L85.0 42.4L83.2 43.9ZM175 149.6L81.3 45.6L79.5 47.2Z" fill="#000" opacity="0.008"/><path d="M175 149.6L107.1 27.2L105.0 28.4ZM175 149.6L102.9 29.6L100.8 30.9ZM175 149.6L98.8 32.2L96.7 33.5ZM175 149.6L94.7 34.9L92.7 36.3ZM175 149.6L90.7 37.8L88.8 39.3ZM175 149.6L86.9 40.8L85.0 42.4ZM175 149.6L83.2 43.9L81.3 45.6ZM175 149.6L79.5 47.2L77.7 48.9Z" fill="#fff" opacity="0.008"/><path d="M175 149.6L77.7 48.9L76.0 50.6ZM175 149.6L74.3 52.3L72.6 54.1ZM175 149.6L71.0 55.9L69.3 57.8ZM175 149.6L67.8 59.6L66.2 61.5ZM175 149.6L64.7 63.4L63.2 65.3ZM175 149.6L61.7 67.3L60.3 69.3ZM175 149.6L58.9 71.3L57.6 73.4ZM175 149.6L56.3 75.4L55.0 77.5ZM175 149.6L53.8 79.6L52.6 81.7ZM175 149.6L51.4 83.9L50.3 86.0ZM175 149.6L49.2 88.2L48.1 90.4ZM175 149.6L47.1 92.7L46.1 94.9ZM175 149.6L45.2 97.2L44.3 99.4ZM175 149.6L43.4 101.7L42.6 104.0ZM175 149.6L41.9 106.3L41.1 108.7ZM175 149.6L40.4 111.0L39.8 113.4ZM175 149.6L39.2 115.7L38.6 118.1ZM175 149.6L38.1 120.5L37.6 122.9ZM175 149.6L37.1 125.3L36.7 127.7ZM175 149.6L36.4 130.1L36.0 132.5ZM175 149.6L35.8 135.0L35.5 137.4ZM175 149.6L35.3 139.8L35.2 142.3ZM175 149.6L35.1 144.7L35.0 147.2ZM175 149.6L35.0 149.6L35.0 152.0ZM175 149.6L35.1 154.5L35.2 156.9ZM175 149.6L35.3 159.4L35.5 161.8ZM175 149.6L35.8 164.2L36.0 166.7ZM175 149.6L36.4 169.1L36.7 171.5ZM175 149.6L37.1 173.9L37.6 176.3ZM175 149.6L38.1 178.7L38.6 181.1ZM175 149.6L39.2 183.5L39.8 185.8ZM175 149.6L40.4 188.2L41.1 190.5ZM175 149.6L41.9 192.9L42.6 195.2ZM175 149.6L43.4 197.5L44.3 199.8ZM175 149.6L45.2 202.0L46.1 204.3ZM175 149.6L47.1 206.5L48.1 208.8ZM175 149.6L49.2 211.0L50.3 213.2ZM175 149.6L51.4 215.3L52.6 217.5ZM175 149.6L53.8 219.6L55.0 221.7ZM175 149.6L56.3 223.8L57.6 225.8ZM175 149.6L58.9 227.9L60.3 229.9ZM175 149.6L61.7 231.9L63.2 233.9ZM175 149.6L64.7 235.8L66.2 237.7ZM175 149.6L67.8 239.6L69.3 241.4ZM175 149.6L71.0 243.3L72.6 245.1ZM175 149.6L74.3 246.9L76.0 248.6Z" fill="#000" opacity="0.017"/><path d="M175 149.6L76.0 50.6L74.3 52.3ZM175 149.6L72.6 54.1L71.0 55.9ZM175 149.6L69.3 57.8L67.8 59.6ZM175 149.6L66.2 61.5L64.7 63.4ZM175 149.6L63.2 65.3L61.7 67.3ZM175 149.6L60.3 69.3L58.9 71.3ZM175 149.6L57.6 73.4L56.3 75.4ZM175 149.6L55.0 77.5L53.8 79.6ZM175 149.6L52.6 81.7L51.4 83.9ZM175 149.6L50.3 86.0L49.2 88.2ZM175 149.6L48.1 90.4L47.1 92.7ZM175 149.6L46.1 94.9L45.2 97.2ZM175 149.6L44.3 99.4L43.4 101.7ZM175 149.6L42.6 104.0L41.9 106.3ZM175 149.6L41.1 108.7L40.4 111.0ZM175 149.6L39.8 113.4L39.2 115.7ZM175 149.6L38.6 118.1L38.1 120.5ZM175 149.6L37.6 122.9L37.1 125.3ZM175 149.6L36.7 127.7L36.4 130.1ZM175 149.6L36.0 132.5L35.8 135.0ZM175 149.6L35.5 137.4L35.3 139.8ZM175 149.6L35.2 142.3L35.1 144.7ZM175 149.6L35.0 147.2L35.0 149.6ZM175 149.6L35.0 152.0L35.1 154.5ZM175 149.6L35.2 156.9L35.3 159.4ZM175 149.6L35.5 161.8L35.8 164.2ZM175 149.6L36.0 166.7L36.4 169.1ZM175 149.6L36.7 171.5L37.1 173.9ZM175 149.6L37.6 176.3L38.1 178.7ZM175 149.6L38.6 181.1L39.2 183.5ZM175 149.6L39.8 185.8L40.4 188.2ZM175 149.6L41.1 190.5L41.9 192.9ZM175 149.6L42.6 195.2L43.4 197.5ZM175 149.6L44.3 199.8L45.2 202.0ZM175 149.6L46.1 204.3L47.1 206.5ZM175 149.6L48.1 208.8L49.2 211.0ZM175 149.6L50.3 213.2L51.4 215.3ZM175 149.6L52.6 217.5L53.8 219.6ZM175 149.6L55.0 221.7L56.3 223.8ZM175 149.6L57.6 225.8L58.9 227.9ZM175 149.6L60.3 229.9L61.7 231.9ZM175 149.6L63.2 233.9L64.7 235.8ZM175 149.6L66.2 237.7L67.8 239.6ZM175 149.6L69.3 241.4L71.0 243.3ZM175 149.6L72.6 245.1L74.3 246.9ZM175 149.6L76.0 248.6L77.7 250.3Z" fill="#fff" opacity="0.017"/><path d="M175 149.6L77.7 250.3L79.5 252.0ZM175 149.6L81.3 253.6L83.2 255.3ZM175 149.6L85.0 256.8L86.9 258.4ZM175 149.6L88.8 259.9L90.7 261.4ZM175 149.6L92.7 262.9L94.7 264.3ZM175 149.6L96.7 265.7L98.8 267.0ZM175 149.6L100.8 268.3L102.9 269.6ZM175 149.6L105.0 270.8L107.1 272.0ZM175 149.6L109.3 273.2L111.4 274.3Z" fill="#000" opacity="0.008"/><path d="M175 149.6L79.5 252.0L81.3 253.6ZM175 149.6L83.2 255.3L85.0 256.8ZM175 149.6L86.9 258.4L88.8 259.9ZM175 149.6L90.7 261.4L92.7 262.9ZM175 149.6L94.7 264.3L96.7 265.7ZM175 149.6L98.8 267.0L100.8 268.3ZM175 149.6L102.9 269.6L105.0 270.8ZM175 149.6L107.1 272.0L109.3 273.2ZM175 149.6L111.4 274.3L113.6 275.4Z" fill="#fff" opacity="0.008"/><path d="M150.4 108.9C152.0 108.7 156.8 107.5 160.0 107.5C163.2 107.5 166.5 108.0 169.6 108.9C172.7 109.9 175.8 111.4 178.6 113.2C181.3 115.0 184.0 117.4 186.2 119.9C188.5 122.5 190.5 125.6 192.1 128.8C193.7 131.9 195.0 135.5 195.8 139.0C196.7 142.5 197.1 146.3 197.1 150.0C197.1 153.7 196.7 157.5 195.8 161.0C195.0 164.5 193.7 168.1 192.1 171.2C190.5 174.4 188.5 177.5 186.2 180.1C184.0 182.6 181.3 185.0 178.6 186.8C175.8 188.6 172.7 190.1 169.6 191.1C166.5 192.0 163.2 192.5 160.0 192.5C156.8 192.5 152.0 191.3 150.4 191.1" fill="none" stroke="#b8b8b8" stroke-width="1.6" filter="url(#b1)" opacity="0.55" stroke-linecap="round" stroke-linejoin="round"/><path d="M148.1 100.3C150.1 100.0 156.0 98.5 160.0 98.5C164.0 98.5 168.1 99.1 171.9 100.3C175.8 101.4 179.6 103.2 183.1 105.4C186.5 107.6 189.8 110.4 192.6 113.6C195.4 116.7 197.9 120.4 199.9 124.2C201.9 128.1 203.5 132.4 204.5 136.7C205.6 141.0 206.1 145.6 206.1 150.0C206.1 154.4 205.6 159.0 204.5 163.3C203.5 167.6 201.9 171.9 199.9 175.8C197.9 179.6 195.4 183.3 192.6 186.4C189.8 189.6 186.5 192.4 183.1 194.6C179.6 196.8 175.8 198.6 171.9 199.7C168.1 200.9 164.0 201.5 160.0 201.5C156.0 201.5 150.1 200.0 148.1 199.7" fill="none" stroke="#b8b8b8" stroke-width="1.6" filter="url(#b1)" opacity="0.45" stroke-linecap="round" stroke-linejoin="round"/><path d="M146.3 93.5C148.5 93.2 155.4 91.5 160.0 91.5C164.6 91.5 169.3 92.2 173.7 93.5C178.2 94.8 182.6 96.8 186.6 99.3C190.5 101.9 194.3 105.1 197.5 108.6C200.8 112.2 203.7 116.4 206.0 120.8C208.3 125.1 210.1 130.0 211.3 134.9C212.5 139.7 213.1 145.0 213.1 150.0C213.1 155.0 212.5 160.3 211.3 165.1C210.1 170.0 208.3 174.9 206.0 179.2C203.7 183.6 200.8 187.8 197.5 191.4C194.3 194.9 190.5 198.1 186.6 200.7C182.6 203.2 178.2 205.2 173.7 206.5C169.3 207.8 164.6 208.5 160.0 208.5C155.4 208.5 148.5 206.8 146.3 206.5" fill="none" stroke="#b8b8b8" stroke-width="1.6" filter="url(#b1)" opacity="0.35" stroke-linecap="round" stroke-linejoin="round"/><path d="M30.0 139.0C33.1 136.3 43.0 134.9 48.9 133.0C54.8 131.1 58.6 129.7 65.2 127.5C71.8 125.3 81.4 122.2 88.5 120.0C95.6 117.8 104.1 114.8 108.0 114.5C111.9 114.2 115.2 115.8 112.0 118.0C108.8 120.2 96.3 125.0 88.5 128.0C80.7 131.0 71.8 133.6 65.0 136.0C58.2 138.4 53.8 140.3 48.0 142.5C42.2 144.7 33.0 149.6 30.0 149.0C27.0 148.4 26.9 141.7 30.0 139.0Z" fill="#787878" filter="url(#b2)" /><path d="M30.0 168.0C33.3 167.7 45.3 175.0 50.0 178.0C54.7 181.0 54.7 183.9 58.0 186.0C61.3 188.1 65.7 189.6 70.0 190.5C74.3 191.4 81.7 190.5 84.0 191.5C86.3 192.5 87.0 195.8 84.0 196.5C81.0 197.2 71.3 197.1 66.0 196.0C60.7 194.9 58.0 192.7 52.0 190.0C46.0 187.3 33.7 183.7 30.0 180.0C26.3 176.3 26.7 168.3 30.0 168.0Z" fill="#797979" filter="url(#b2)" /><path d="M30.0 145.0C33.1 139.5 43.0 141.0 48.9 139.0C54.8 137.0 58.6 135.3 65.2 133.0C71.8 130.7 81.0 127.5 88.5 125.0C96.0 122.5 105.2 119.8 110.2 118.1C115.2 116.4 115.4 115.1 118.3 114.8C121.2 114.5 124.7 116.1 127.8 116.1C130.9 116.1 133.8 115.4 137.2 114.8C140.6 114.2 144.6 112.7 148.0 112.7C151.4 112.7 154.3 113.7 157.5 114.8C160.7 115.9 164.1 118.0 167.0 119.5C169.9 121.0 172.6 122.0 175.1 123.5C177.6 125.0 180.1 126.6 181.8 128.3C183.5 130.0 183.9 131.4 185.2 133.7C186.5 136.0 188.5 139.3 189.5 142.0C190.5 144.7 191.2 147.6 191.2 150.0C191.2 152.4 190.5 155.1 189.5 156.5C188.5 157.9 186.6 157.4 185.2 158.7C183.8 160.0 183.1 162.6 181.2 164.5C179.3 166.4 176.7 168.5 174.0 170.3C171.3 172.1 168.7 173.6 165.3 175.4C161.9 177.2 158.0 179.1 153.7 181.2C149.3 183.2 144.0 185.9 139.2 187.7C134.4 189.5 129.5 191.1 124.7 192.0C119.9 192.9 116.3 193.1 110.2 193.2C104.1 193.3 95.2 192.9 88.2 192.6C81.2 192.3 73.5 192.8 68.0 191.5C62.5 190.2 61.3 188.2 55.0 185.0C48.7 181.8 34.2 178.7 30.0 172.0C25.8 165.3 26.9 150.5 30.0 145.0Z" fill="#595959" filter="url(#b1.4)" /><path d="M30.0 142.0C33.7 135.5 46.7 139.3 52.0 141.0C57.3 142.7 60.0 146.8 62.0 152.0C64.0 157.2 64.3 166.3 64.0 172.0C63.7 177.7 62.3 183.0 60.0 186.0C57.7 189.0 55.0 191.0 50.0 190.0C45.0 189.0 33.3 188.0 30.0 180.0C26.7 172.0 26.3 148.5 30.0 142.0Z" fill="#6c6c6c" filter="url(#b4)" /><path d="M104.0 123.0C105.4 117.6 114.3 118.5 118.3 117.8C122.3 117.1 124.7 119.0 127.8 119.0C130.9 119.0 133.8 118.3 137.2 117.8C140.6 117.2 144.6 115.7 148.0 115.7C151.4 115.7 154.5 116.8 157.5 117.8C160.5 118.8 163.2 120.5 166.0 122.0C168.8 123.5 171.5 124.8 174.0 126.5C176.5 128.2 179.0 129.4 181.0 132.0C183.0 134.6 184.9 139.0 186.0 142.0C187.1 145.0 187.4 147.5 187.4 150.0C187.4 152.5 187.4 154.6 186.0 157.0C184.6 159.4 182.4 161.9 179.0 164.5C175.6 167.1 169.5 170.2 165.3 172.5C161.1 174.8 158.0 176.4 153.7 178.5C149.3 180.6 144.0 183.2 139.2 185.0C134.4 186.8 130.2 188.5 124.7 189.3C119.2 190.1 110.5 192.9 106.0 190.0C101.5 187.1 97.3 178.7 98.0 172.0C98.7 165.3 109.0 158.2 110.0 150.0C111.0 141.8 102.6 128.4 104.0 123.0Z" fill="#4b4b4b" filter="url(#b3)" /><path d="M58.0 180.0C59.7 176.8 66.3 173.3 72.0 170.0C77.7 166.7 86.3 161.7 92.0 160.0C97.7 158.3 103.8 157.3 106.0 160.0C108.2 162.7 107.3 171.7 105.0 176.0C102.7 180.3 96.5 183.5 92.0 186.0C87.5 188.5 83.0 190.5 78.0 191.0C73.0 191.5 65.3 190.8 62.0 189.0C58.7 187.2 56.3 183.2 58.0 180.0Z" fill="#4d4d4d" filter="url(#b2.5)" /><path d="M87.0 124.0C87.8 121.2 94.7 120.5 98.0 121.5C101.3 122.5 105.3 126.9 107.0 130.0C108.7 133.1 109.0 137.8 108.0 140.0C107.0 142.2 103.5 143.8 101.0 143.5C98.5 143.2 95.3 141.2 93.0 138.0C90.7 134.8 86.2 126.8 87.0 124.0Z" fill="#4d4d4d" filter="url(#b2)" /><path d="M76.0 134.0C76.8 132.5 81.5 131.7 84.0 132.5C86.5 133.3 89.8 136.7 91.0 139.0C92.2 141.3 92.4 145.0 91.5 146.5C90.6 148.0 87.6 148.8 85.5 148.0C83.4 147.2 80.6 143.8 79.0 141.5C77.4 139.2 75.2 135.5 76.0 134.0Z" fill="#4d4d4d" filter="url(#b2)" /><ellipse cx="60.0" cy="145.3" rx="2.8" ry="2.8" transform="rotate(0 60.0 145.3)" fill="#4e4e4e" filter="url(#b1.2)"/><ellipse cx="67.8" cy="139.0" rx="3.4" ry="3.8" transform="rotate(-15 67.8 139.0)" fill="#434343" filter="url(#b1.2)"/><path d="M130.0 119.0C131.3 116.1 136.5 114.8 138.0 117.5C139.5 120.2 139.5 129.6 139.0 135.0C138.5 140.4 136.5 147.2 135.0 150.0C133.5 152.8 130.8 154.5 130.0 152.0C129.2 149.5 130.0 140.5 130.0 135.0C130.0 129.5 128.7 121.9 130.0 119.0Z" fill="#545454" filter="url(#b2.5)" /><path d="M128.0 156.0C128.9 153.7 132.7 153.7 134.0 156.0C135.3 158.3 136.0 165.3 136.0 170.0C136.0 174.7 135.2 181.3 134.0 184.0C132.8 186.7 129.9 188.3 129.0 186.0C128.1 183.7 128.7 175.0 128.5 170.0C128.3 165.0 127.1 158.3 128.0 156.0Z" fill="#545454" filter="url(#b2)" /><path d="M150.0 142.0C151.7 139.0 158.7 138.7 160.0 140.0C161.3 141.3 158.5 146.7 158.0 150.0C157.5 153.3 158.3 158.7 157.0 160.0C155.7 161.3 151.2 161.0 150.0 158.0C148.8 155.0 148.3 145.0 150.0 142.0Z" fill="#505050" filter="url(#b2)" /><path d="M89.4 125.2C90.2 124.2 94.2 123.3 96.6 124.2C99.0 125.1 102.3 127.9 103.8 130.3C105.3 132.7 105.8 136.8 105.4 138.6C105.0 140.4 102.9 141.4 101.3 141.1C99.7 140.8 97.2 138.3 95.6 136.5C94.0 134.7 92.5 132.2 91.5 130.3C90.5 128.4 88.6 126.2 89.4 125.2Z" fill="#353535" filter="url(#b0.9)" /><path d="M78.1 135.5C78.4 134.5 81.6 133.8 83.3 134.5C85.0 135.2 87.4 137.9 88.4 139.6C89.4 141.3 89.7 143.7 89.4 144.7C89.1 145.7 87.8 146.5 86.4 145.8C85.0 145.1 82.6 142.3 81.2 140.6C79.8 138.9 77.8 136.5 78.1 135.5Z" fill="#393939" filter="url(#b0.9)" /><path d="M117.6 120.2C118.8 118.5 122.0 116.3 123.7 116.8C125.4 117.2 127.0 120.1 127.8 122.9C128.6 125.7 128.8 130.1 128.4 133.7C128.0 137.3 126.3 142.6 125.1 144.5C123.9 146.4 122.2 146.3 121.0 145.2C119.8 144.1 118.3 140.8 117.6 137.7C116.9 134.6 116.7 129.8 116.7 126.9C116.7 124.0 116.4 121.9 117.6 120.2Z" fill="#333333" filter="url(#b1)" /><path d="M139.2 121.5C140.3 119.3 143.9 118.3 146.7 118.1C149.5 117.9 152.8 119.4 156.2 120.2C159.6 121.0 163.6 121.9 167.0 122.9C170.4 123.9 174.2 125.3 176.4 126.2C178.7 127.1 180.1 127.4 180.5 128.3C180.9 129.2 180.9 130.8 179.1 131.6C177.3 132.4 172.6 132.5 169.7 133.0C166.8 133.5 164.5 134.1 161.6 134.4C158.7 134.7 154.5 134.1 152.1 135.0C149.7 135.9 148.9 139.2 147.4 139.8C145.9 140.4 144.6 139.9 143.3 138.4C142.1 136.9 140.6 133.8 139.9 131.0C139.2 128.2 138.1 123.7 139.2 121.5Z" fill="#323232" filter="url(#b1)" /><path d="M74.2 185.3C76.1 183.2 82.8 180.6 87.1 177.2C91.4 173.8 97.3 167.0 100.0 165.1C102.7 163.2 102.8 164.6 103.2 165.9C103.6 167.2 104.0 170.5 102.4 173.2C100.8 175.9 96.9 179.3 93.5 182.0C90.1 184.7 85.2 188.0 82.2 189.3C79.2 190.7 77.1 190.8 75.8 190.1C74.5 189.4 72.3 187.5 74.2 185.3Z" fill="#333333" filter="url(#b1)" /><path d="M59.7 182.0C61.6 179.8 68.6 176.7 72.6 174.0C76.6 171.3 81.6 166.9 83.8 166.0C86.0 165.1 86.8 166.4 85.5 168.3C84.2 170.2 79.0 174.2 75.8 177.2C72.6 180.1 68.6 184.4 66.2 186.0C63.8 187.6 62.3 187.7 61.2 187.0C60.1 186.3 57.8 184.2 59.7 182.0Z" fill="#404040" filter="url(#b1)" /><path d="M118.9 157.2C120.7 155.8 122.8 157.0 124.0 158.7C125.2 160.4 125.6 164.0 126.1 167.4C126.6 170.8 127.1 175.3 126.9 179.0C126.7 182.7 126.5 187.3 124.7 189.5C122.9 191.7 119.6 191.9 116.0 192.3C112.4 192.7 105.4 193.1 103.0 192.0C100.6 190.9 100.4 188.2 101.6 186.0C102.8 183.8 108.3 182.1 110.2 179.0C112.1 175.9 111.6 171.0 113.1 167.4C114.5 163.8 117.1 158.6 118.9 157.2Z" fill="#333333" filter="url(#b1.1)" /><path d="M141.4 161.6C143.1 159.9 144.4 159.7 145.7 160.1C147.0 160.5 147.2 163.1 149.3 163.8C151.4 164.5 154.8 164.2 158.0 164.5C161.2 164.8 165.2 165.4 168.2 165.9C171.2 166.4 174.4 166.8 176.1 167.4C177.8 168.0 178.7 168.9 178.3 169.6C178.0 170.3 176.2 171.0 174.0 171.7C171.8 172.4 168.5 173.1 165.3 173.9C162.2 174.8 158.0 175.7 155.1 176.8C152.2 177.9 150.6 179.4 147.9 180.4C145.2 181.4 141.5 182.8 139.2 182.6C136.9 182.4 134.7 181.1 134.1 179.0C133.5 176.9 134.4 173.2 135.6 170.3C136.8 167.4 139.7 163.3 141.4 161.6Z" fill="#323232" filter="url(#b1)" /><ellipse cx="177.1" cy="128.5" rx="1.6" ry="1.4" transform="rotate(0 177.1 128.5)" fill="#1d1d1d" filter="url(#b0.5)"/><ellipse cx="176.9" cy="168.8" rx="1.6" ry="1.4" transform="rotate(0 176.9 168.8)" fill="#1d1d1d" filter="url(#b0.5)"/><circle cx="171.3" cy="149.5" r="14.3" fill="#202020" filter="url(#b0.5)"/><circle cx="171.8" cy="149.5" r="12" fill="#303030" filter="url(#b1.5)"/><ellipse cx="174.0" cy="149.5" rx="10.0" ry="9.0" transform="rotate(0 174.0 149.5)" fill="#404040" filter="url(#b2)"/><path d="M174.8 149.5L173.5 136.0L176.0 136.0Z" fill="#232323" filter="url(#b0.8)" /><path d="M174.8 149.5L173.5 163.0L176.0 163.0Z" fill="#232323" filter="url(#b0.8)" /><ellipse cx="174.6" cy="149.5" rx="7.0" ry="6.5" transform="rotate(0 174.6 149.5)" fill="#505050" filter="url(#b1.5)"/><ellipse cx="174.7" cy="149.5" rx="5.0" ry="4.6" transform="rotate(0 174.7 149.5)" fill="#797979" filter="url(#b1.2)"/><ellipse cx="174.8" cy="149.5" rx="3.0" ry="2.8" transform="rotate(0 174.8 149.5)" fill="#a9a9a9" filter="url(#b0.8)"/></g></g><ellipse cx="174.9" cy="149.6" rx="1.7" ry="1.4" fill="#ffffe8" filter="url(#b0.5)"/></g>
<path d="M46.1 20.5V279" fill="none" stroke="#858585" stroke-width="1"/><path d="M45.6 20.5H304.8" fill="none" stroke="#808080" stroke-width="0.8"/><path d="M304.6 20.5V279M45.6 278.8H305" fill="none" stroke="#b0b0b0" stroke-width="0.9"/><path d="M46.5 46.3h2.6M304 46.3h-2.6" stroke="#9a9a9a" stroke-width="0.7"/><path d="M46.5 72.1h2.6M304 72.1h-2.6" stroke="#9a9a9a" stroke-width="0.7"/><path d="M46.5 97.9h2.6M304 97.9h-2.6" stroke="#9a9a9a" stroke-width="0.7"/><path d="M46.5 123.7h2.6M304 123.7h-2.6" stroke="#9a9a9a" stroke-width="0.7"/><path d="M46.5 149.5h2.6M304 149.5h-2.6" stroke="#9a9a9a" stroke-width="0.7"/><path d="M46.5 175.3h2.6M304 175.3h-2.6" stroke="#9a9a9a" stroke-width="0.7"/><path d="M46.5 201.1h2.6M304 201.1h-2.6" stroke="#9a9a9a" stroke-width="0.7"/><path d="M46.5 226.9h2.6M304 226.9h-2.6" stroke="#9a9a9a" stroke-width="0.7"/><path d="M46.5 252.7h2.6M304 252.7h-2.6" stroke="#9a9a9a" stroke-width="0.7"/><path d="M110.7 20.8v2.6M110.7 278.6v-2.6" stroke="#9a9a9a" stroke-width="0.7"/><path d="M175.2 20.8v2.6M175.2 278.6v-2.6" stroke="#9a9a9a" stroke-width="0.7"/><path d="M239.7 20.8v2.6M239.7 278.6v-2.6" stroke="#9a9a9a" stroke-width="0.7"/><text x="43.4" y="24.9" text-anchor="end" class="t">1000</text><text x="43.4" y="50.7" text-anchor="end" class="t">800</text><text x="43.4" y="76.5" text-anchor="end" class="t">600</text><text x="43.4" y="102.4" text-anchor="end" class="t">400</text><text x="43.4" y="128.2" text-anchor="end" class="t">200</text><text x="43.4" y="154.0" text-anchor="end" class="t">0</text><text x="43.4" y="179.8" text-anchor="end" class="t">−200</text><text x="43.4" y="205.6" text-anchor="end" class="t">−400</text><text x="43.4" y="231.5" text-anchor="end" class="t">−600</text><text x="43.4" y="257.3" text-anchor="end" class="t">−800</text><text x="43.4" y="283.1" text-anchor="end" class="t">−1000</text><text x="58.5" y="292.2" text-anchor="end" class="t">−1000</text><text x="119.8" y="292.2" text-anchor="end" class="t">−500</text><text x="178.0" y="292.2" text-anchor="end" class="t">0</text><text x="248.9" y="292.2" text-anchor="end" class="t">500</text><text x="316.7" y="292.2" text-anchor="end" class="t">1000</text><text x="175" y="309" text-anchor="middle" class="t">X (AU)</text><text transform="translate(8.7 149.7) rotate(-90)" text-anchor="middle" class="t">Z (AU)</text><text x="174.1" y="10.9" text-anchor="middle" class="ti">Plasma Density (T = 2013.00)</text><rect x="315.3" y="20.4" width="14.6" height="258.6" fill="url(#cbar)"/><rect x="315.3" y="20.4" width="14.6" height="258.6" fill="none" stroke="#444" stroke-opacity="0.55" stroke-width="0.8"/><text x="333.6" y="24.8" class="m">0</text><path d="M315.5 53.2h2.4M329.7 53.2h-2.4" stroke="#222" stroke-opacity="0.7" stroke-width="0.9"/><text x="333.6" y="57.1" class="m">−0.5</text><path d="M315.5 85.4h2.4M329.7 85.4h-2.4" stroke="#222" stroke-opacity="0.7" stroke-width="0.9"/><text x="333.6" y="89.3" class="m">−1</text><path d="M315.5 117.7h2.4M329.7 117.7h-2.4" stroke="#222" stroke-opacity="0.7" stroke-width="0.9"/><text x="333.6" y="121.6" class="m">−1.5</text><path d="M315.5 150.0h2.4M329.7 150.0h-2.4" stroke="#222" stroke-opacity="0.7" stroke-width="0.9"/><text x="333.6" y="153.9" class="m">−2</text><path d="M315.5 182.3h2.4M329.7 182.3h-2.4" stroke="#222" stroke-opacity="0.7" stroke-width="0.9"/><text x="333.6" y="186.2" class="m">−2.5</text><path d="M315.5 214.5h2.4M329.7 214.5h-2.4" stroke="#222" stroke-opacity="0.7" stroke-width="0.9"/><text x="333.6" y="218.4" class="m">−3</text><path d="M315.5 246.8h2.4M329.7 246.8h-2.4" stroke="#222" stroke-opacity="0.7" stroke-width="0.9"/><text x="333.6" y="250.7" class="m">−3.5</text><text x="333.6" y="283.0" class="m">−4</text>
</g>
</svg>
</body></html>
